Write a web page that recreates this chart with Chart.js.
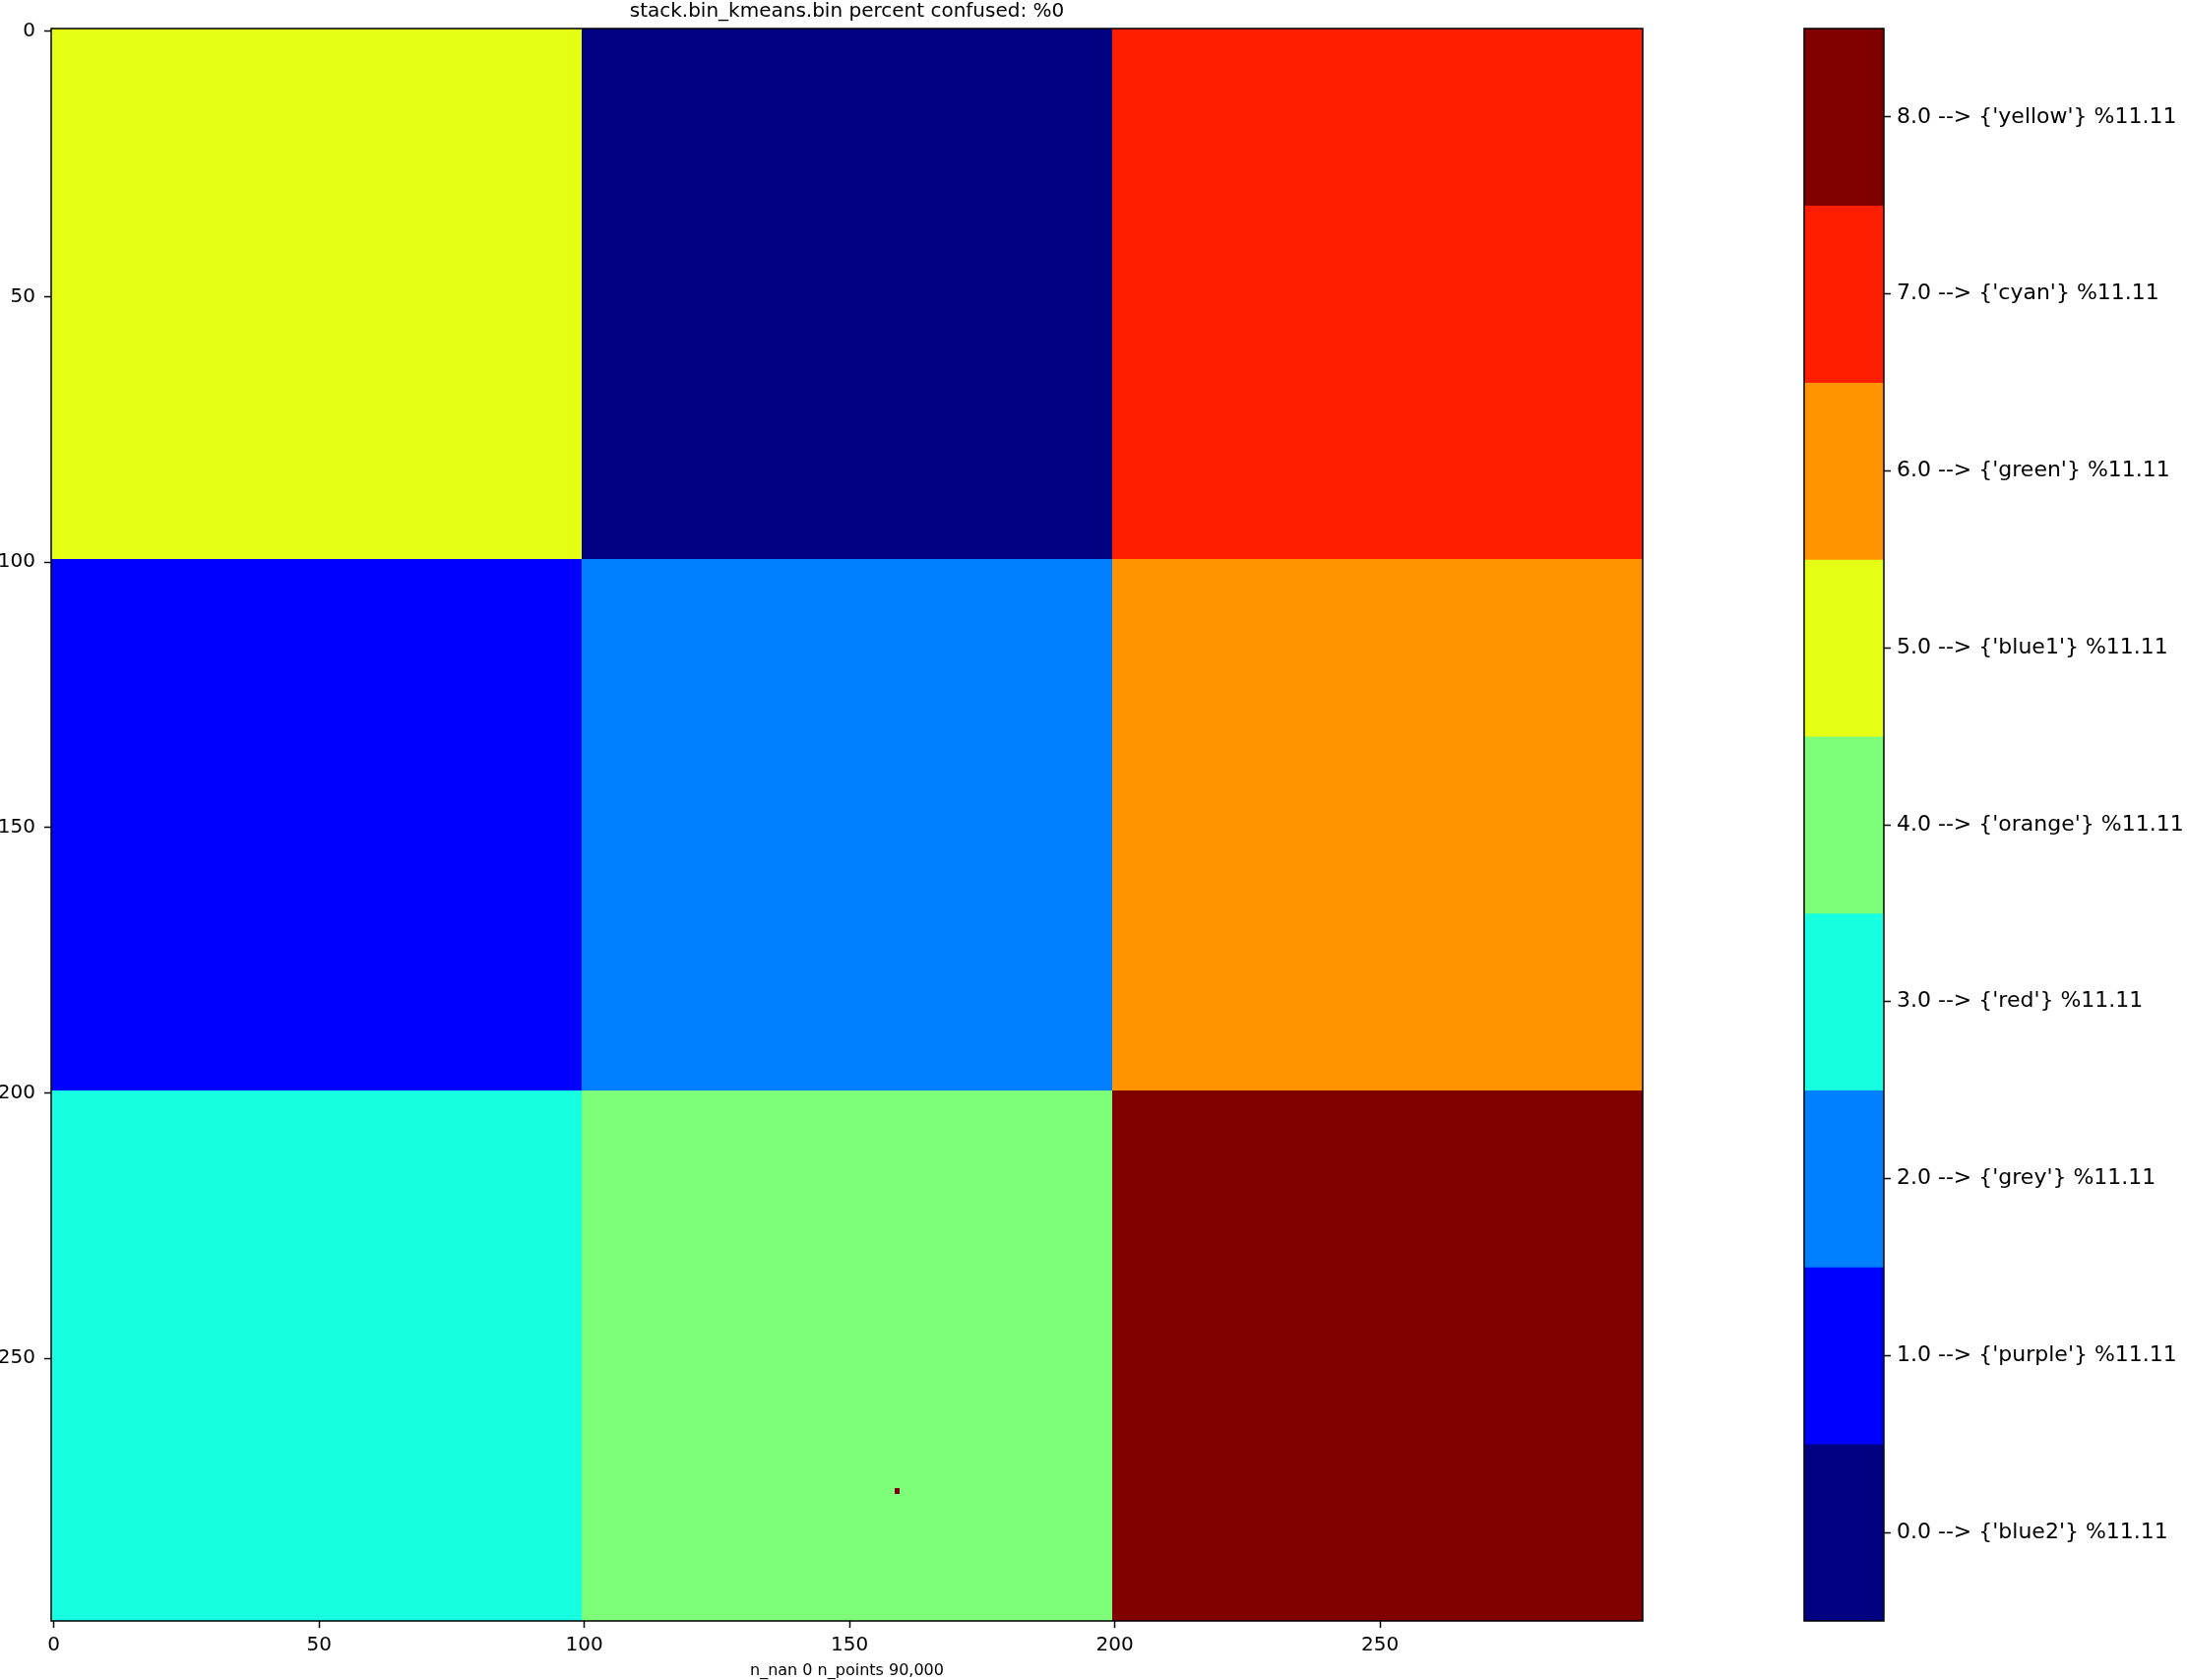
<!DOCTYPE html>
<html>
<head>
<meta charset="utf-8">
<script src="https://cdn.jsdelivr.net/npm/chart.js@4/dist/chart.umd.min.js"></script>
<style>
  html, body { margin: 0; padding: 0; background: #ffffff; }
  #wrap { position: relative; width: 2222px; height: 1707px; background: #ffffff; overflow: hidden; }
  #main { position: absolute; left: 0; top: 0; }
  #cbar { position: absolute; left: 1800px; top: 0; }
</style>
</head>
<body>
<div id="wrap">
  <canvas id="main" width="1700" height="1707"></canvas>
  <canvas id="cbar" width="422" height="1707"></canvas>
</div>
<script>
// ---- data ----
const chartTitle = "stack.bin_kmeans.bin percent confused: %0";
const xAxisTitle = "n_nan 0 n_points 90,000";
const xTickValues = [0, 50, 100, 150, 200, 250];
const yTickValues = [0, 50, 100, 150, 200, 250];
// image cells (column start, row start, span in pixels, class value)
const cellCols    = [0, 100, 200, 0, 100, 200, 0, 100, 200, 159];
const cellRows    = [0, 0, 0, 100, 100, 100, 200, 200, 200, 275];
const cellSpans   = [100, 100, 100, 100, 100, 100, 100, 100, 100, 1];
const cellClasses = [5, 0, 7, 1, 2, 6, 3, 4, 8, 8];
// colorbar classes (value order 0..8)
const classLabels = [
  "0.0 --> {'blue2'} %11.11",
  "1.0 --> {'purple'} %11.11",
  "2.0 --> {'grey'} %11.11",
  "3.0 --> {'red'} %11.11",
  "4.0 --> {'orange'} %11.11",
  "5.0 --> {'blue1'} %11.11",
  "6.0 --> {'green'} %11.11",
  "7.0 --> {'cyan'} %11.11",
  "8.0 --> {'yellow'} %11.11"
];
const classSpan = [1, 1, 1, 1, 1, 1, 1, 1, 1];
const classColors = ['#000080', '#0000ff', '#0080ff', '#16ffe1', '#7dff7a', '#e4ff13', '#ff9400', '#ff1e00', '#800000'];

const FONT = "'DejaVu Sans', 'Liberation Sans', sans-serif";

const cells = cellCols.map((c, i) => ({ x: c, y: cellRows[i], w: cellSpans[i], v: cellClasses[i] }));

const heatmapPlugin = {
  id: 'heatmap',
  beforeDatasetsDraw(chart) {
    const ctx = chart.ctx, xs = chart.scales.x, ys = chart.scales.y, a = chart.chartArea;
    ctx.save();
    ctx.beginPath();
    ctx.rect(a.left, a.top, a.right - a.left, a.bottom - a.top);
    ctx.clip();
    chart.data.datasets[0].data.forEach(p => {
      const x0 = Math.round(xs.getPixelForValue(p.x - 0.5));
      const x1 = Math.round(xs.getPixelForValue(p.x + p.w - 0.5));
      const y0 = Math.round(ys.getPixelForValue(p.y - 0.5));
      const y1 = Math.round(ys.getPixelForValue(p.y + p.w - 0.5));
      ctx.fillStyle = classColors[p.v];
      ctx.fillRect(Math.min(x0, x1), Math.min(y0, y1), Math.abs(x1 - x0), Math.abs(y1 - y0));
    });
    ctx.restore();
  }
};

const framePlugin = {
  id: 'frame',
  afterDraw(chart) {
    const ctx = chart.ctx, a = chart.chartArea;
    ctx.save();
    ctx.strokeStyle = '#000000';
    ctx.lineWidth = 1.5;
    ctx.strokeRect(a.left, a.top, a.right - a.left, a.bottom - a.top);
    ctx.restore();
  }
};

new Chart(document.getElementById('main'), {
  type: 'scatter',
  data: { datasets: [{ data: cells, pointRadius: 0, pointHoverRadius: 0 }] },
  options: {
    responsive: false, animation: false, devicePixelRatio: 1,
    layout: { padding: { left: 0, right: 31, top: 0, bottom: 0 } },
    plugins: {
      legend: { display: false },
      tooltip: { enabled: false },
      title: {
        display: true, text: chartTitle, fullSize: false, color: '#000000',
        font: { family: FONT, size: 20, weight: 'normal', lineHeight: 1.2 },
        padding: { top: 0, bottom: 5 }
      }
    },
    scales: {
      x: {
        type: 'linear', min: -0.5, max: 299.5,
        afterBuildTicks: s => { s.ticks = xTickValues.map(v => ({ value: v })); },
        afterFit: s => { s.height = 60; },
        ticks: { font: { family: FONT, size: 20 }, color: '#000000', padding: 6, maxRotation: 0, autoSkip: false },
        grid: { drawOnChartArea: false, tickLength: 7, tickColor: '#000000', tickWidth: 1.5 },
        border: { display: false },
        title: { display: true, text: xAxisTitle, color: '#000000', font: { family: FONT, size: 16 }, padding: { top: 0, bottom: 0 } }
      },
      y: {
        type: 'linear', min: -0.5, max: 299.5, reverse: true,
        afterBuildTicks: s => { s.ticks = yTickValues.map(v => ({ value: v })); },
        afterFit: s => { s.width = 52; },
        ticks: { font: { family: FONT, size: 20 }, color: '#000000', padding: 9, autoSkip: false },
        grid: { drawOnChartArea: false, tickLength: 7, tickColor: '#000000', tickWidth: 1.5 },
        border: { display: false }
      }
    }
  },
  plugins: [heatmapPlugin, framePlugin]
});

new Chart(document.getElementById('cbar'), {
  type: 'bar',
  data: {
    labels: classLabels,
    datasets: [{ data: classSpan, backgroundColor: classColors, borderWidth: 0, barPercentage: 1, categoryPercentage: 1 }]
  },
  options: {
    indexAxis: 'y',
    responsive: false, animation: false, devicePixelRatio: 1,
    layout: { padding: { left: 33, right: 0, top: 29, bottom: 60 } },
    plugins: { legend: { display: false }, tooltip: { enabled: false } },
    scales: {
      x: { display: false, min: 0, max: 1 },
      y: {
        position: 'right', reverse: true,
        afterFit: s => { s.width = 308; },
        ticks: { font: { family: FONT, size: 22 }, color: '#000000', padding: 6, autoSkip: false },
        grid: { drawOnChartArea: false, offset: false, tickLength: 7, tickColor: '#000000', tickWidth: 1.5 },
        border: { display: false }
      }
    }
  },
  plugins: [framePlugin]
});
</script>
</body>
</html>
